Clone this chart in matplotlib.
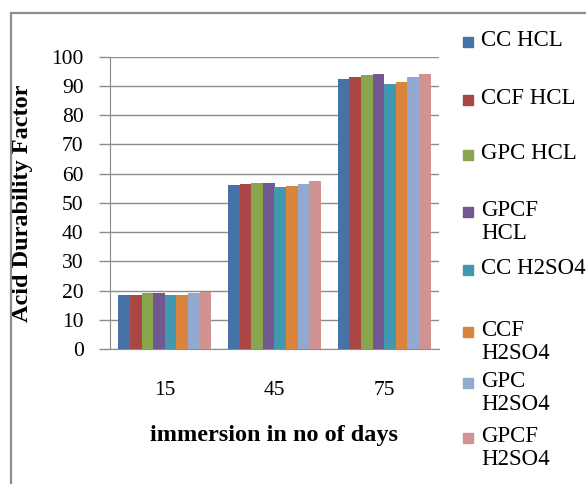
import numpy as np
import matplotlib
matplotlib.use("Agg")
import matplotlib.pyplot as plt
from matplotlib.patches import Rectangle

days = ["15", "45", "75"]
series = ["CC HCL", "CCF HCL", "GPC HCL", "GPCF\nHCL", "CC H2SO4",
          "CCF\nH2SO4", "GPC\nH2SO4", "GPCF\nH2SO4"]
cc_hcl = [18.5, 56.0, 92.4]
ccf_hcl = [18.5, 56.3, 93.2]
gpc_hcl = [19.0, 56.8, 93.7]
gpcf_hcl = [19.0, 56.8, 94.1]
cc_h2so4 = [18.5, 55.4, 90.5]
ccf_h2so4 = [18.5, 55.8, 91.4]
gpc_h2so4 = [19.0, 56.3, 93.2]
gpcf_h2so4 = [19.5, 57.6, 94.0]
values = [cc_hcl, ccf_hcl, gpc_hcl, gpcf_hcl, cc_h2so4, ccf_h2so4, gpc_h2so4, gpcf_h2so4]
colors = ["#4672a8", "#aa4644", "#89a54e", "#71588f", "#4198af", "#db843d", "#93a9cf", "#d19392"]

plt.rcParams["font.family"] = ["Liberation Serif", "DejaVu Serif"]
W, H = 586, 484
fig = plt.figure(figsize=(W / 100, H / 100), dpi=100)

# outer chart frame, running off the right and bottom edges
fig.patches.append(Rectangle((11 / W, -0.1), 1.2, 1 - 13 / H + 0.1, transform=fig.transFigure,
                             fill=False, edgecolor="#8c8c8c", lw=1.6))

ax = fig.add_axes([110 / W, 1 - 349 / H, 329 / W, (349 - 56.7) / H])
n = len(series)
bw = 0.845 / n
x = np.arange(len(days))
for i, (vals, c) in enumerate(zip(values, colors)):
    ax.bar(x - 0.4225 + bw * (i + 0.5), vals, width=bw, color=c, zorder=3)

ax.set_xlim(-0.5, 2.5)
ax.set_ylim(0, 100)
ax.set_yticks(range(0, 101, 10))
ax.set_xticks(x)
ax.set_xticklabels(days, fontsize=15.5)
ax.tick_params(axis="x", length=0, pad=23)
ax.tick_params(axis="y", length=8, width=1, color="#8c8c8c", labelsize=15.5, pad=11)
ax.grid(axis="y", color="#8c8c8c", lw=1, zorder=0)
for s in ["top", "right"]:
    ax.spines[s].set_visible(False)
for s in ["left", "bottom"]:
    ax.spines[s].set_color("#8c8c8c")
ax.set_ylabel("Acid Durability Factor", fontsize=17.5, fontweight="bold")
ax.yaxis.set_label_coords((33 - 110) / 329, 0.5)
ax.set_xlabel("immersion in no of days", fontsize=17.5, fontweight="bold", labelpad=18)

# legend laid out entry by entry
legend_y = [41.7, 100, 155, 212, 270, 332, 383, 438]
for name, c, yy in zip(series, colors, legend_y):
    fig.patches.append(Rectangle((463 / W, 1 - (yy + 5) / H), 10 / W, 10 / H,
                                 transform=fig.transFigure, color=c))
    fig.text(481 / W, 1 - (yy - 12) / H, name, fontsize=16.5, va="top", ha="left",
             linespacing=1.15)

fig.savefig("out.png", dpi=100)
